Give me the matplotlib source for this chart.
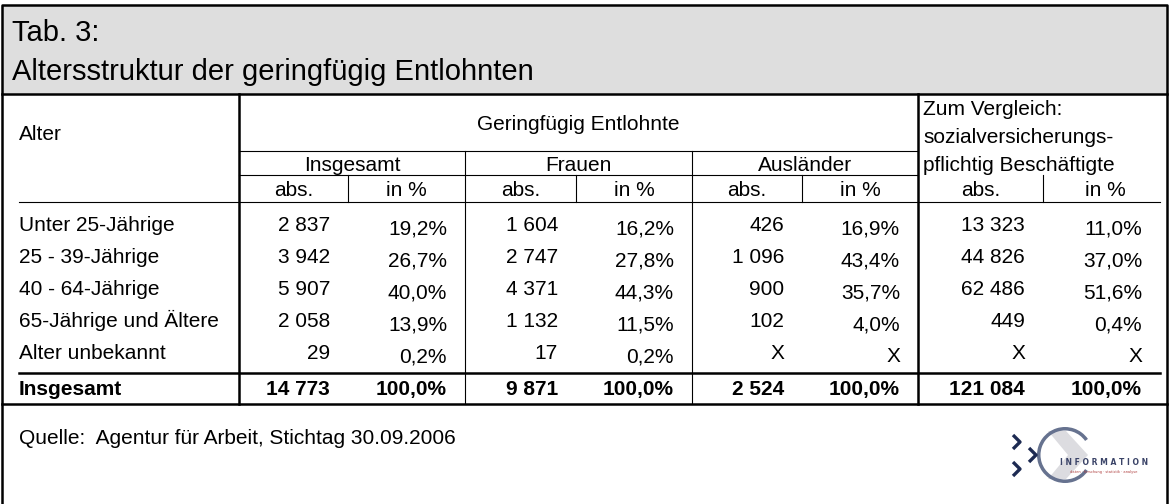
import matplotlib.pyplot as plt
from matplotlib.patches import Rectangle, Wedge, Polygon

plt.rcParams['font.family'] = ['Liberation Sans', 'DejaVu Sans']

# --- data ---
title_1 = "Tab. 3:"
title_2 = "Altersstruktur der geringfügig Entlohnten"
source = "Quelle:  Agentur für Arbeit, Stichtag 30.09.2006"

age_groups = ["Unter 25-Jährige", "25 - 39-Jährige", "40 - 64-Jährige",
              "65-Jährige und Ältere", "Alter unbekannt"]
groups = ["Insgesamt", "Frauen", "Ausländer"]
compare_head = ["Zum Vergleich:", "sozialversicherungs-", "pflichtig Beschäftigte"]

insg_abs = [2837, 3942, 5907, 2058, 29]
insg_pct = [19.2, 26.7, 40.0, 13.9, 0.2]
frauen_abs = [1604, 2747, 4371, 1132, 17]
frauen_pct = [16.2, 27.8, 44.3, 11.5, 0.2]
ausl_abs = [426, 1096, 900, 102, None]
ausl_pct = [16.9, 43.4, 35.7, 4.0, None]
svb_abs = [13323, 44826, 62486, 449, None]
svb_pct = [11.0, 37.0, 51.6, 0.4, None]

total_abs = [14773, 9871, 2524, 121084]
total_pct = [100.0, 100.0, 100.0, 100.0]


def fmt_abs(v):
    if v is None:
        return "X"
    return f"{v:,}".replace(",", " ")


def fmt_pct(v):
    if v is None:
        return "X"
    return f"{v:.1f}%".replace(".", ",")


# --- layout (pixel coords, y downward) ---
W, H = 1170, 504
edges = [239, 348, 465, 576, 692, 802, 918, 1043, 1167]
row_y = [224, 256, 288, 320, 352]
y_total = 388
FS = 15
thick, thin = 1.8, 0.8


def txt(x, yc, s, ha="left", size=FS, weight="normal", cap=0.716, **kw):
    # place by visual centre of capitals
    em = size * 100 / 72
    ax.text(x, yc + cap * em / 2, s, ha=ha, va="baseline", fontsize=size,
            fontweight=weight, **kw)


fig = plt.figure(figsize=(W / 100, H / 100), dpi=100)
ax = fig.add_axes([0, 0, 1, 1])
ax.set_xlim(0, W)
ax.set_ylim(H, 0)
ax.axis("off")

# title block
ax.add_patch(Rectangle((2, 5), 1165, 89, facecolor="#dedede", edgecolor="none"))
txt(12, 31, title_1, size=21)
txt(12, 70, title_2, size=21)

# outer frame + heavy rules
ax.plot([2, 2, 1167, 1167], [504, 5, 5, 504], color="black", lw=thick)
ax.plot([2, 1167], [94, 94], color="black", lw=thick)
ax.plot([2, 1167], [404, 404], color="black", lw=thick)
ax.plot([19, 1160], [373, 373], color="black", lw=thick)
ax.plot([19, 1160], [202, 202], color="black", lw=thin)
ax.plot([edges[0]] * 2, [94, 404], color="black", lw=thick)
ax.plot([edges[6]] * 2, [94, 404], color="black", lw=thick)
ax.plot([edges[0], edges[6]], [151, 151], color="black", lw=thin)
ax.plot([edges[0], edges[6]], [175, 175], color="black", lw=thin)
for x in (edges[2], edges[4]):
    ax.plot([x, x], [151, 404], color="black", lw=thin)
for x in (edges[1], edges[3], edges[5], edges[7]):
    ax.plot([x, x], [175, 202], color="black", lw=thin)

# header text
txt(19, 133, "Alter")
txt((edges[0] + edges[6]) / 2, 123, "Geringfügig Entlohnte", ha="center")
for i, g in enumerate(groups):
    txt((edges[2 * i] + edges[2 * i + 2]) / 2, 164, g, ha="center")
for yy, s in zip([108, 136, 164], compare_head):
    txt(edges[6] + 5, yy, s)
for i in range(4):
    txt((edges[2 * i] + edges[2 * i + 1]) / 2, 189, "abs.", ha="center")
    txt((edges[2 * i + 1] + edges[2 * i + 2]) / 2, 189, "in %", ha="center")

# body
cols = [(insg_abs, insg_pct), (frauen_abs, frauen_pct),
        (ausl_abs, ausl_pct), (svb_abs, svb_pct)]
for r, name in enumerate(age_groups):
    txt(19, row_y[r], name)
    for i, (a, p) in enumerate(cols):
        pad = 25 if i == 3 else 18
        txt(edges[2 * i + 1] - 18, row_y[r], fmt_abs(a[r]), ha="right")
        txt(edges[2 * i + 2] - pad, row_y[r] + 3, fmt_pct(p[r]), ha="right")

txt(19, y_total, "Insgesamt", weight="bold")
for i in range(4):
    pad = 25 if i == 3 else 18
    txt(edges[2 * i + 1] - 18, y_total, fmt_abs(total_abs[i]), ha="right", weight="bold")
    txt(edges[2 * i + 2] - pad, y_total, fmt_pct(total_pct[i]), ha="right", weight="bold")

# footer
txt(19, 437, source)

# logo
ax.add_patch(Polygon([(1048, 431), (1066, 431), (1088, 455), (1066, 479), (1048, 479), (1068, 455)],
                     closed=True, facecolor="#dcdce0", edgecolor="none"))
ax.add_patch(Wedge((1065, 455), 28, 35, 325, width=3.5, facecolor="#66728f", edgecolor="none"))
for cx, cy in [(1013, 442), (1029, 455), (1013, 469)]:
    ax.plot([cx, cx + 7, cx], [cy - 7, cy, cy + 7], color="#1d2a52", lw=2.4,
            solid_capstyle="butt")
ax.text(1104, 465, "I N F O R M A T I O N", ha="center", va="baseline",
        fontsize=5.5, fontweight="bold", color="#3b4468", family="DejaVu Sans")
ax.text(1104, 473, "daten · forschung · statistik · analyse", ha="center", va="baseline",
        fontsize=2.6, color="#b04040", family="DejaVu Sans")

fig.savefig("out.png", dpi=100)
